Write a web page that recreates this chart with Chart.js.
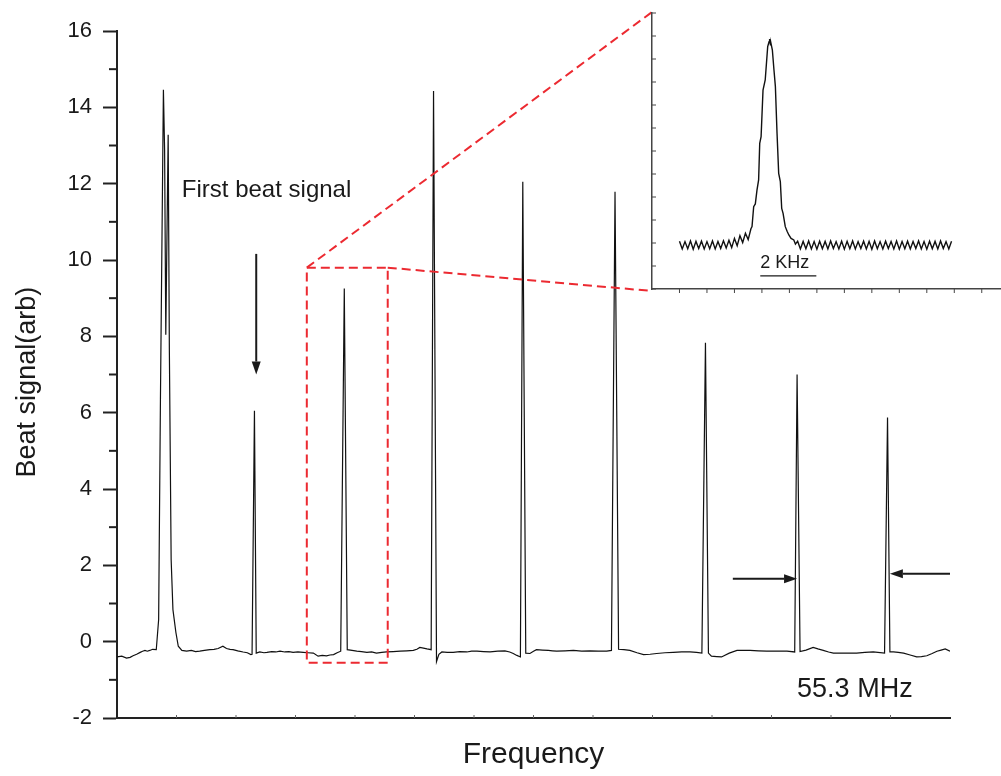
<!DOCTYPE html>
<html>
<head>
<meta charset="utf-8">
<title>Beat signal</title>
<script src="https://cdn.jsdelivr.net/npm/chart.js@4/dist/chart.umd.min.js"></script>
<style>
  html, body { margin: 0; padding: 0; background: #fff; }
  #wrap { position: relative; width: 1001px; height: 776px; }
  #main { position: absolute; left: 0; top: 0; }
  #inset { position: absolute; left: 640px; top: 0; }
</style>
</head>
<body>
<div id="wrap">
  <canvas id="main" width="1001" height="776"></canvas>
  <canvas id="inset" width="361" height="300"></canvas>
</div>
<script>
// Main trace: frequency (arbitrary units, 14 divisions) vs beat signal
const freqX = [
  0.00, 0.08, 0.16, 0.22, 0.27, 0.33, 0.39, 0.43, 0.47, 0.51, 0.55, 0.60, 0.66,
  0.70, 0.73, 0.78, 0.80, 0.82, 0.86, 0.88, 0.91, 0.94, 0.99, 1.03, 1.09, 1.17,
  1.25, 1.32, 1.39, 1.47, 1.56, 1.63, 1.70, 1.78, 1.84, 1.90, 1.95, 2.03, 2.12,
  2.19, 2.25, 2.27, 2.31, 2.34, 2.40, 2.47, 2.52, 2.60, 2.67, 2.74, 2.82, 2.89,
  2.96, 3.04, 3.13, 3.21, 3.30, 3.38, 3.45, 3.52, 3.58, 3.64, 3.70, 3.76, 3.82,
  3.87, 3.95, 4.03, 4.11, 4.20, 4.28, 4.36, 4.45, 4.53, 4.64, 4.76, 4.87, 4.98,
  5.04, 5.09, 5.15, 5.21, 5.28, 5.32, 5.37, 5.41, 5.46, 5.55, 5.65, 5.76, 5.88,
  5.96, 6.05, 6.16, 6.27, 6.40, 6.52, 6.60, 6.66, 6.72, 6.78, 6.82, 6.87, 6.94,
  7.00, 7.05, 7.15, 7.25, 7.32, 7.39, 7.53, 7.67, 7.81, 7.95, 8.09, 8.23, 8.31,
  8.37, 8.43, 8.52, 8.62, 8.74, 8.85, 8.96, 9.07, 9.21, 9.35, 9.49, 9.63, 9.74,
  9.83, 9.89, 9.94, 9.99, 10.08, 10.16, 10.29, 10.42, 10.53, 10.64, 10.78, 10.92,
  11.09, 11.26, 11.39, 11.43, 11.48, 11.58, 11.70, 11.78, 11.87, 11.96, 12.04,
  12.12, 12.21, 12.32, 12.43, 12.57, 12.71, 12.90, 12.95, 12.99, 13.05, 13.13,
  13.22, 13.33, 13.44, 13.52, 13.61, 13.70, 13.78, 13.85, 13.92, 14.00
];
const beatY = [
  -0.40, -0.38, -0.43, -0.41, -0.37, -0.33, -0.28, -0.25, -0.23, -0.25, -0.23, -0.20, -0.21,
  0.58, 6.34, 14.46, 12.89, 8.04, 13.28, 7.65, 2.15, 0.84, 0.24, -0.12, -0.23, -0.25,
  -0.23, -0.26, -0.25, -0.23, -0.21, -0.20, -0.18, -0.12, -0.18, -0.20, -0.21, -0.24, -0.27,
  -0.29, -0.34, -0.33, 6.05, -0.30, -0.27, -0.29, -0.28, -0.26, -0.27, -0.25, -0.27, -0.26,
  -0.28, -0.27, -0.28, -0.29, -0.30, -0.38, -0.36, -0.37, -0.35, -0.34, -0.29, -0.25, 9.25,
  -0.21, -0.23, -0.25, -0.26, -0.28, -0.27, -0.30, -0.28, -0.27, -0.26, -0.25, -0.24, -0.23,
  -0.20, -0.15, -0.17, -0.19, -0.21, 14.43, -0.52, -0.33, -0.27, -0.28, -0.28, -0.26, -0.27,
  -0.25, -0.25, -0.26, -0.27, -0.25, -0.24, -0.27, -0.31, -0.36, -0.40, 12.05, -0.30, -0.31,
  -0.25, -0.21, -0.22, -0.23, -0.24, -0.25, -0.24, -0.23, -0.25, -0.24, -0.25, -0.25, -0.23,
  11.79, -0.20, -0.21, -0.23, -0.29, -0.34, -0.33, -0.31, -0.29, -0.28, -0.27, -0.27, -0.28,
  -0.30, 7.83, -0.30, -0.38, -0.39, -0.40, -0.30, -0.23, -0.23, -0.23, -0.24, -0.25,
  -0.25, -0.25, -0.27, 7.00, -0.26, -0.22, -0.15, -0.19, -0.23, -0.27, -0.30,
  -0.30, -0.30, -0.30, -0.30, -0.28, -0.27, -0.30, 5.87, -0.27, -0.27, -0.28,
  -0.30, -0.35, -0.40, -0.39, -0.37, -0.31, -0.25, -0.22, -0.19, -0.25
];
const yTickValues = [-2, 0, 2, 4, 6, 8, 10, 12, 14, 16];

// Inset: single beat note, zoomed in (scale bar = 2 kHz)
const insetX = [
  1.0, 1.1, 1.2, 1.3, 1.4, 1.5, 1.6, 1.7, 1.8, 1.9, 2.0, 2.1, 2.2, 2.3, 2.4, 2.5,
  2.6, 2.7, 2.8, 2.9, 3.0, 3.1, 3.2, 3.3, 3.4, 3.5, 3.6, 3.64, 3.70, 3.76, 3.82,
  3.88, 3.92, 3.97, 4.04, 4.12, 4.21, 4.26, 4.28, 4.31, 4.33, 4.38, 4.44, 4.49,
  4.55, 4.61, 4.67, 4.72, 4.77, 4.85, 4.92, 4.98, 5.06, 5.16, 5.22,
  5.3, 5.4, 5.5, 5.6, 5.7, 5.8, 5.9, 6.0, 6.1, 6.2, 6.3, 6.4, 6.5, 6.6, 6.7, 6.8,
  6.9, 7.0, 7.1, 7.2, 7.3, 7.4, 7.5, 7.6, 7.7, 7.8, 7.9, 8.0, 8.1, 8.2, 8.3, 8.4,
  8.5, 8.6, 8.7, 8.8, 8.9, 9.0, 9.1, 9.2, 9.3, 9.4, 9.5, 9.6, 9.7, 9.8, 9.9, 10.0,
  10.1, 10.2, 10.3, 10.4, 10.5, 10.6, 10.7, 10.8, 10.9
];
const insetY = [
  2.08, 1.74, 2.06, 1.75, 2.09, 1.73, 2.07, 1.76, 2.08, 1.74, 2.06, 1.75, 2.09, 1.74, 2.07, 1.76,
  2.10, 1.78, 2.12, 1.80, 2.20, 1.88, 2.32, 2.02, 2.42, 2.15, 2.62, 2.71, 3.58, 3.70, 4.30,
  4.74, 6.33, 6.62, 8.65, 9.09, 10.54, 10.75, 10.87, 10.62, 10.68, 10.39, 9.50, 8.80,
  6.77, 5.03, 4.67, 3.50, 3.29, 2.71, 2.50, 2.35, 2.20, 2.13, 1.95,
  2.08, 1.74, 2.07, 1.75, 2.09, 1.74, 2.06, 1.73, 2.08, 1.75, 2.07, 1.74, 2.09, 1.76, 2.06, 1.74,
  2.08, 1.73, 2.07, 1.75, 2.09, 1.74, 2.06, 1.76, 2.08, 1.74, 2.07, 1.73, 2.09, 1.75, 2.06, 1.74,
  2.08, 1.76, 2.07, 1.74, 2.09, 1.73, 2.06, 1.75, 2.08, 1.74, 2.07, 1.76, 2.09, 1.74, 2.06, 1.73,
  2.08, 1.75, 2.07, 1.74, 2.09, 1.76, 2.06, 1.74, 2.08
];

// annotation placement, in data units of the main plot
const zoomBox = { x0: 3.19, x1: 4.55, y0: -0.55, y1: 9.80 };
const downArrow = { x: 2.34, y0: 10.16, y1: 7.0 };
const rightArrow = { x0: 10.35, x1: 11.43, y: 1.65 };
const leftArrow = { x0: 14.0, x1: 12.99, y: 1.78 };
const firstBeatLabel = { text: 'First beat signal', x: 1.09, y: 11.66 };
const spacingLabel = { text: '55.3 MHz', x: 11.43, y: -1.44 };
const yTitle = { text: 'Beat signal(arb)', x: 28, yValue: 6.8 };
// inset scale bar (2 units = 2 KHz)
const scaleBar = { text: '2 KHz', x0: 3.94, x1: 5.98, y: 0.57, textY: 0.91 };

const FONT = "'Liberation Sans', Arial, Helvetica, sans-serif";
const INK = '#1a1a1a';
const AXIS = '#222';
const RED = '#ec2a31';

function line(ctx, x0, y0, x1, y1) {
  ctx.beginPath();
  ctx.moveTo(x0, y0);
  ctx.lineTo(x1, y1);
  ctx.stroke();
}

function arrow(ctx, x0, y0, x1, y1) {
  const ang = Math.atan2(y1 - y0, x1 - x0);
  const len = 13, half = 4.5;
  const bx = x1 - len * Math.cos(ang), by = y1 - len * Math.sin(ang);
  ctx.lineWidth = 2;
  line(ctx, x0, y0, bx, by);
  ctx.beginPath();
  ctx.moveTo(x1, y1);
  ctx.lineTo(bx + half * Math.sin(ang), by - half * Math.cos(ang));
  ctx.lineTo(bx - half * Math.sin(ang), by + half * Math.cos(ang));
  ctx.closePath();
  ctx.fill();
}

// ---------- inset ----------
const insetCanvas = document.getElementById('inset');

const insetDecor = {
  id: 'insetDecor',
  afterDraw(chart) {
    const { ctx, chartArea: a, scales: { x, y } } = chart;
    ctx.save();
    ctx.strokeStyle = '#444';
    ctx.lineWidth = 1;
    for (let v = 0; v <= 12; v++) {
      const py = y.getPixelForValue(v);
      line(ctx, a.left, py, a.left + 4, py);
    }
    for (let v = 1; v <= 12; v++) {
      const px = x.getPixelForValue(v);
      line(ctx, px, a.bottom, px, a.bottom + 4);
    }
    // scale bar
    ctx.strokeStyle = INK;
    ctx.lineWidth = 1.3;
    const sy = y.getPixelForValue(scaleBar.y);
    line(ctx, x.getPixelForValue(scaleBar.x0), sy, x.getPixelForValue(scaleBar.x1), sy);
    ctx.fillStyle = INK;
    ctx.font = '18px ' + FONT;
    ctx.textBaseline = 'alphabetic';
    ctx.fillText(scaleBar.text, x.getPixelForValue(scaleBar.x0), y.getPixelForValue(scaleBar.textY));
    ctx.restore();
  }
};

const insetChart = new Chart(insetCanvas, {
  type: 'line',
  data: {
    datasets: [{
      data: insetX.map((v, i) => ({ x: v, y: insetY[i] })),
      borderColor: '#111',
      borderWidth: 1.4,
      pointRadius: 0,
      tension: 0
    }]
  },
  options: {
    responsive: false,
    animation: false,
    layout: { padding: { top: 13, right: 0, bottom: 0, left: 0 } },
    plugins: { legend: { display: false }, tooltip: { enabled: false } },
    scales: {
      x: {
        type: 'linear', min: 0, max: 12.7,
        afterFit: s => { s.height = 11; },
        grid: { display: false },
        ticks: { display: false, stepSize: 1 },
        border: { display: true, color: '#444', width: 1.5 }
      },
      y: {
        min: 0, max: 12,
        afterFit: s => { s.width = 12; },
        grid: { display: false },
        ticks: { display: false, stepSize: 1 },
        border: { display: true, color: '#444', width: 1.5 }
      }
    }
  },
  plugins: [insetDecor]
});

// ---------- main plot ----------
const mainDecor = {
  id: 'mainDecor',
  afterDraw(chart) {
    const { ctx, chartArea: a, scales: { x, y } } = chart;
    ctx.save();

    // minor ticks on the left axis
    ctx.strokeStyle = AXIS;
    ctx.lineWidth = 2;
    for (let v = -1; v <= 15; v += 2) {
      const py = y.getPixelForValue(v);
      line(ctx, a.left - 8, py, a.left, py);
    }
    // small ticks on the frequency axis
    ctx.lineWidth = 1;
    ctx.strokeStyle = '#666';
    for (let v = 1; v < 14; v++) {
      const px = x.getPixelForValue(v);
      line(ctx, px, a.bottom, px, a.bottom - 3);
    }

    // dashed zoom box and its connectors to the inset
    const bx0 = x.getPixelForValue(zoomBox.x0), bx1 = x.getPixelForValue(zoomBox.x1);
    const by0 = y.getPixelForValue(zoomBox.y0), by1 = y.getPixelForValue(zoomBox.y1);
    const ia = insetChart.chartArea;
    const ix = insetCanvas.offsetLeft + ia.left;
    const iTop = insetCanvas.offsetTop + ia.top - 1;
    const iBottom = insetCanvas.offsetTop + ia.bottom + 2;
    ctx.strokeStyle = RED;
    ctx.lineWidth = 2;
    ctx.setLineDash([9, 5]);
    ctx.strokeRect(bx0, by1, bx1 - bx0, by0 - by1);
    line(ctx, bx0, by1, ix, iTop);
    line(ctx, bx1, by1, ix, iBottom);
    ctx.setLineDash([]);

    // arrows
    ctx.strokeStyle = INK;
    ctx.fillStyle = INK;
    const dx = x.getPixelForValue(downArrow.x);
    arrow(ctx, dx, y.getPixelForValue(downArrow.y0), dx, y.getPixelForValue(downArrow.y1));
    const ry = y.getPixelForValue(rightArrow.y);
    arrow(ctx, x.getPixelForValue(rightArrow.x0), ry, x.getPixelForValue(rightArrow.x1), ry);
    const ly = y.getPixelForValue(leftArrow.y);
    arrow(ctx, x.getPixelForValue(leftArrow.x0), ly, x.getPixelForValue(leftArrow.x1), ly);

    // labels
    ctx.textBaseline = 'alphabetic';
    ctx.font = '24px ' + FONT;
    ctx.fillText(firstBeatLabel.text, x.getPixelForValue(firstBeatLabel.x), y.getPixelForValue(firstBeatLabel.y));
    ctx.font = '27px ' + FONT;
    ctx.fillText(spacingLabel.text, x.getPixelForValue(spacingLabel.x), y.getPixelForValue(spacingLabel.y));

    // vertical axis title
    ctx.translate(yTitle.x, y.getPixelForValue(yTitle.yValue));
    ctx.rotate(-Math.PI / 2);
    ctx.textAlign = 'center';
    ctx.textBaseline = 'middle';
    ctx.font = '27px ' + FONT;
    ctx.fillText(yTitle.text, 0, 0);
    ctx.restore();
  }
};

new Chart(document.getElementById('main'), {
  type: 'line',
  data: {
    datasets: [{
      data: freqX.map((v, i) => ({ x: v, y: beatY[i] })),
      borderColor: '#111',
      borderWidth: 1.2,
      pointRadius: 0,
      tension: 0
    }]
  },
  options: {
    responsive: false,
    animation: false,
    layout: { padding: { top: 31, right: 51, bottom: 0, left: 0 } },
    plugins: { legend: { display: false }, tooltip: { enabled: false } },
    scales: {
      x: {
        type: 'linear', min: 0, max: 14,
        afterFit: s => { s.height = 58; },
        grid: { display: false },
        ticks: { display: false },
        border: { display: true, color: AXIS, width: 2 },
        title: {
          display: true, text: 'Frequency', color: INK,
          font: { family: FONT, size: 30 }, padding: { top: 0, bottom: 3 }
        }
      },
      y: {
        min: -2, max: 16,
        afterFit: s => { s.width = 117; },
        afterBuildTicks: s => { s.ticks = yTickValues.map(v => ({ value: v })); },
        ticks: { color: INK, font: { family: FONT, size: 22 }, padding: 11 },
        grid: { drawOnChartArea: false, tickLength: 14, tickWidth: 2, tickColor: AXIS },
        border: { display: true, color: AXIS, width: 2 }
      }
    }
  },
  plugins: [mainDecor]
});
</script>
</body>
</html>
